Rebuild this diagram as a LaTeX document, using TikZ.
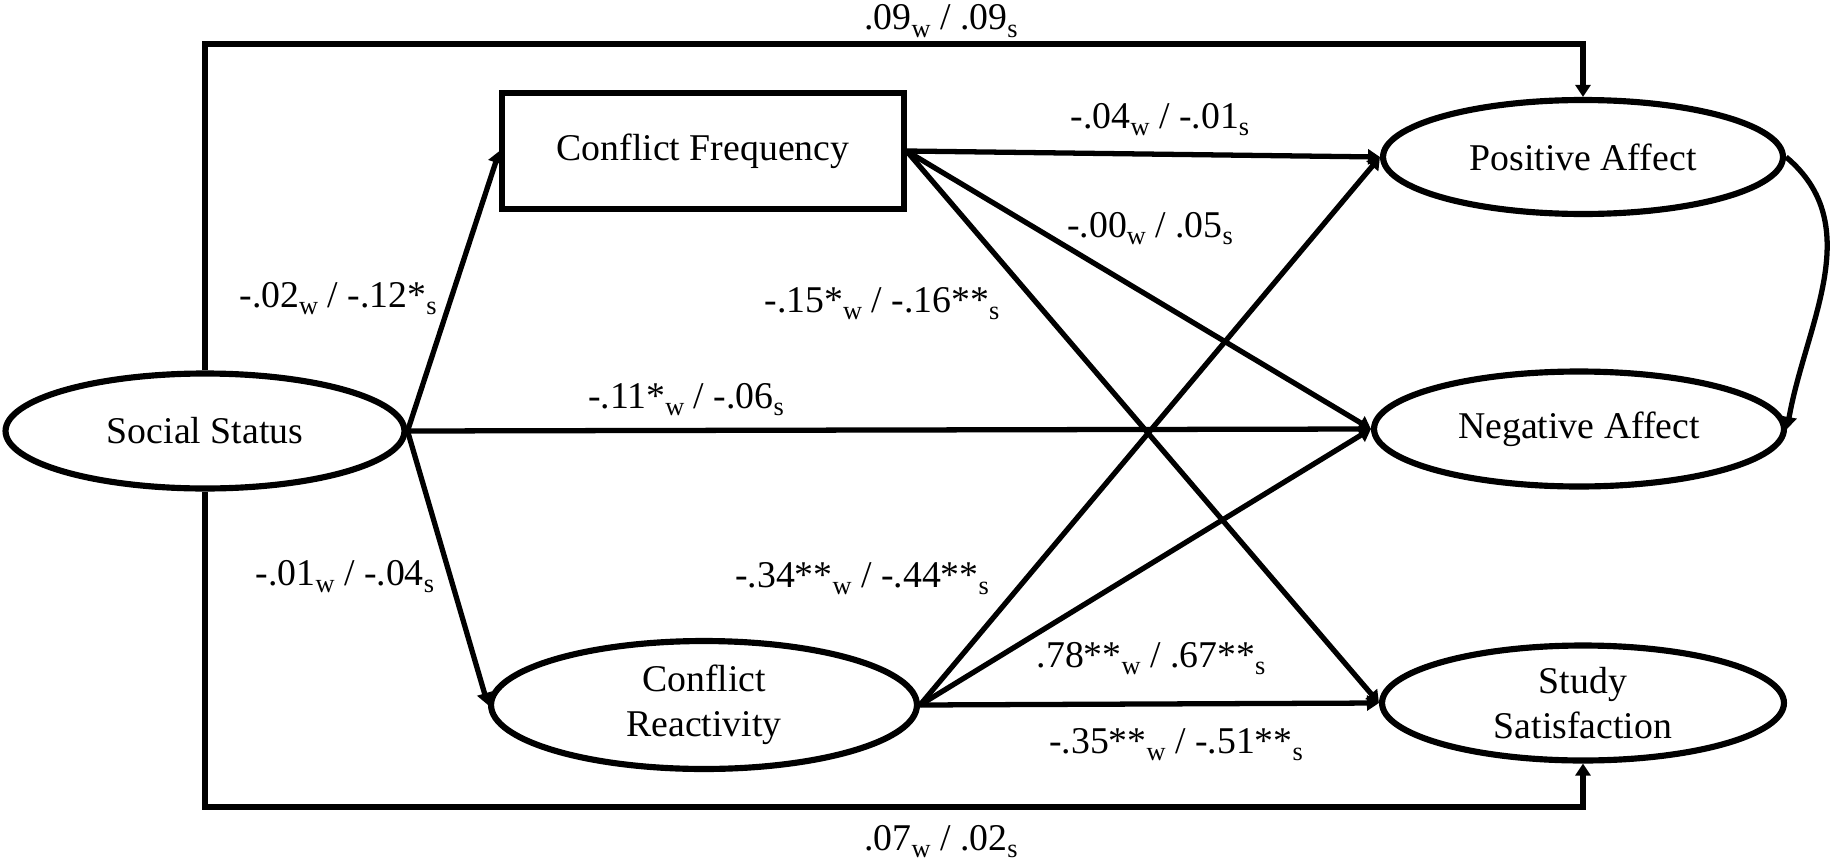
\documentclass[tikz,border=0pt]{standalone}
\usepackage{fontspec}
\setmainfont{Liberation Serif}
\usetikzlibrary{shapes.geometric, arrows.meta}
\newcommand{\subw}{\raisebox{-4pt}{\fontsize{15}{15}\selectfont w}}
\newcommand{\subs}{\raisebox{-4pt}{\fontsize{15}{15}\selectfont s}}
\begin{document}
\begin{tikzpicture}[
			x=0.02cm, y=-0.02cm,
			every node/.style={font=\fontsize{21.5}{25.5}\selectfont, inner sep=0pt},
			latent/.style={ellipse, draw, line width=3.5pt, align=center},
			observed/.style={rectangle, draw, line width=3pt, align=center},
			arrow/.style={-{Triangle[length=0.24cm, width=0.3cm]}, line width=3pt},
			coef/.style={anchor=base}
			]
			
			\useasboundingbox (0,0) rectangle (1833,862);
			
			% Nodes
			\node (social) [latent, minimum width=7.98cm, minimum height=2.3cm] at (205,431) {Social Status};
			\node (freq) [observed, minimum width=8.04cm, minimum height=2.32cm] at (703,151) {Conflict Frequency};
			\node (react) [latent, minimum width=8.52cm, minimum height=2.56cm] at (704,705) {Conflict\\Reactivity};
			\node (posaff) [latent, minimum width=8.0cm, minimum height=2.28cm] at (1583,157) {Positive Affect};
			\node (negaff) [latent, minimum width=8.2cm, minimum height=2.3cm] at (1579,429) {Negative Affect};
			\node (study) [latent, minimum width=8.04cm, minimum height=2.3cm] at (1583,703) {Study\\Satisfaction};
			
			\coordinate (topleft) at (205,44);
			\coordinate (botleft) at (205,807);
			
			% Connections
			\draw [arrow] (social.east) -- (freq.west);
			\draw [arrow] (social.east) -- (react.west);
			\draw [arrow] (social.east) -- (negaff.west);
			\draw [arrow] (freq.east) -- (posaff.west);
			\draw [arrow] (freq.east) -- (negaff.west);
			\draw [arrow] (freq.east) -- (study.west);
			\draw [arrow] (react.east) -- (posaff.west);
			\draw [arrow] (react.east) -- (negaff.west);
			\draw [arrow] (react.east) -- (study.west);
			\draw [arrow] (social.north) -- (topleft) -| (posaff.north);
			\draw [arrow] (social.south) -- (botleft) -| (study.south);
			\draw [arrow] (posaff.east) to[out=-40, in=80] (negaff.east);
			
			% Coefficients
			\node (c_top) [coef] at (941,30) {.09\subw{} / .09\subs};
			\node (c_sscf) [coef] at (338,307) {-.02\subw{} / -.12*\subs};
			\node (c_sscr) [coef] at (345,585) {-.01\subw{} / -.04\subs};
			\node (c_ssna) [coef] at (686,408) {-.11*\subw{} / -.06\subs};
			\node (c_cfpa) [coef] at (1160,128) {-.04\subw{} / -.01\subs};
			\node (c_cfna) [coef] at (1150,237) {-.00\subw{} / .05\subs};
			\node (c_cfst) [coef] at (882,312) {-.15*\subw{} / -.16**\subs};
			\node (c_crpa) [coef] at (862,587) {-.34**\subw{} / -.44**\subs};
			\node (c_crna) [coef] at (1151,667) {.78**\subw{} / .67**\subs};
			\node (c_crst) [coef] at (1176,753) {-.35**\subw{} / -.51**\subs};
			\node (c_bot) [coef] at (941,850) {.07\subw{} / .02\subs};
			
		\end{tikzpicture}
\end{document}
